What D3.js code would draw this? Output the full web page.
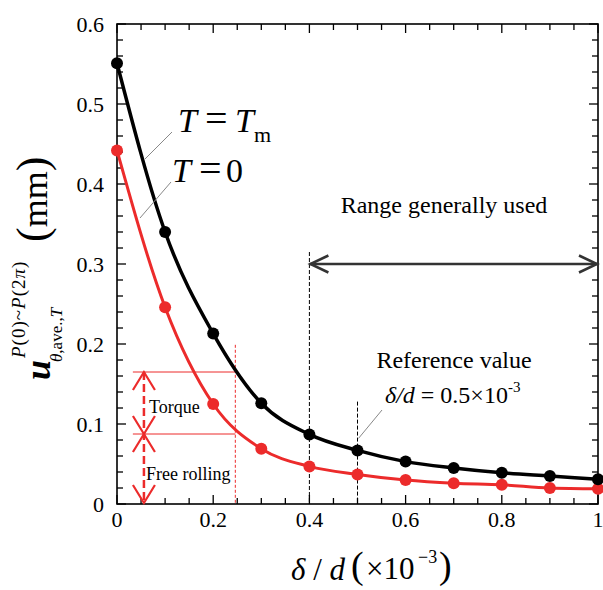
<!DOCTYPE html>
<html><head><meta charset="utf-8">
<script src="https://cdn.jsdelivr.net/npm/d3@7"></script>
<style>body{margin:0;background:#fff}svg{display:block}text{font-family:"Liberation Serif","Times New Roman",serif}</style>
</head><body><svg id="c" width="603" height="590"></svg>
<script>
const xs = [0,0.1,0.2,0.3,0.4,0.5,0.6,0.7,0.8,0.9,1.0];
const tMax = [0.551,0.340,0.213,0.126,0.087,0.067,0.053,0.045,0.039,0.035,0.031];
const tZero = [0.442,0.246,0.125,0.069,0.047,0.037,0.030,0.026,0.024,0.020,0.019];
const xTickLabels = [0,0.2,0.4,0.6,0.8,1];
const yTickLabels = [0,0.1,0.2,0.3,0.4,0.5,0.6];
const RED = "#ec2b2b";

const svg = d3.select("#c");
const L=117,R=598,T=24,B=504;
const x = d3.scaleLinear().domain([0,1]).range([L,R]);
const y = d3.scaleLinear().domain([0,0.6]).range([B,T]);

// ticks
const xMinor = d3.range(0,1.0001,0.05);
const yMinor = d3.range(0,0.6001,0.02);
const isMajX = v => xTickLabels.some(t=>Math.abs(t-v)<1e-6);
const isMajY = v => yTickLabels.some(t=>Math.abs(t-v)<1e-6);
const tk = svg.append("g").attr("stroke","#000").attr("stroke-width",1.3);
xMinor.forEach(v=>{const len=isMajX(v)?9:6;
  tk.append("line").attr("x1",x(v)).attr("x2",x(v)).attr("y1",B).attr("y2",B-len);
  tk.append("line").attr("x1",x(v)).attr("x2",x(v)).attr("y1",T).attr("y2",T+len);});
yMinor.forEach(v=>{const len=isMajY(v)?9:6;
  tk.append("line").attr("y1",y(v)).attr("y2",y(v)).attr("x1",L).attr("x2",L+len);
  tk.append("line").attr("y1",y(v)).attr("y2",y(v)).attr("x1",R).attr("x2",R-len);});
svg.append("rect").attr("x",L).attr("y",T).attr("width",R-L).attr("height",B-T)
  .attr("fill","none").attr("stroke","#000").attr("stroke-width",1.6);

// tick labels
svg.append("g").selectAll("text").data(xTickLabels).join("text")
  .attr("x",d=>x(d)).attr("y",527).attr("text-anchor","middle").attr("font-size",22).text(d=>d);
svg.append("g").selectAll("text").data(yTickLabels).join("text")
  .attr("x",104).attr("y",d=>y(d)+7.5).attr("text-anchor","end").attr("font-size",22).text(d=>d);

// reference dashed lines
svg.append("line").attr("x1",x(0.4)).attr("x2",x(0.4)).attr("y1",y(0.315)).attr("y2",B)
  .attr("stroke","#000").attr("stroke-width",1).attr("stroke-dasharray","4,2");
svg.append("line").attr("x1",x(0.5)).attr("x2",x(0.5)).attr("y1",y(0.128)).attr("y2",B)
  .attr("stroke","#000").attr("stroke-width",1).attr("stroke-dasharray","4,2");
svg.append("line").attr("x1",x(0.246)).attr("x2",x(0.246)).attr("y1",y(0.199)).attr("y2",B)
  .attr("stroke",RED).attr("stroke-width",1).attr("stroke-dasharray","3,2");
[0.165,0.0875].forEach(v=>svg.append("line").attr("x1",x(0.033)).attr("x2",x(0.246))
  .attr("y1",y(v)).attr("y2",y(v)).attr("stroke",RED).attr("stroke-width",1));

// curves
const line = d3.line().x(d=>x(d[0])).y(d=>y(d[1])).curve(d3.curveMonotoneX);
[[tZero,RED,3],[tMax,"#000",3.5]].forEach(([vals,col,w])=>{
  const pts = xs.map((v,i)=>[v,vals[i]]);
  svg.append("path").attr("d",line(pts)).attr("fill","none").attr("stroke",col).attr("stroke-width",w);
  svg.append("g").selectAll("circle").data(pts).join("circle")
    .attr("cx",d=>x(d[0])).attr("cy",d=>y(d[1])).attr("r",6).attr("fill",col);
});

function chev(g,tipX,tipY,dir,len,half,col,w){
  let p;
  if(dir==='l') p=[[tipX+len,tipY-half],[tipX,tipY],[tipX+len,tipY+half]];
  if(dir==='r') p=[[tipX-len,tipY-half],[tipX,tipY],[tipX-len,tipY+half]];
  if(dir==='u') p=[[tipX-half,tipY+len],[tipX,tipY],[tipX+half,tipY+len]];
  if(dir==='d') p=[[tipX-half,tipY-len],[tipX,tipY],[tipX+half,tipY-len]];
  g.append("path").attr("d",d3.line()(p)).attr("fill","none").attr("stroke",col).attr("stroke-width",w);
}
// range arrow
const ar = svg.append("g");
ar.append("line").attr("x1",x(0.4)).attr("x2",x(1)).attr("y1",y(0.3)).attr("y2",y(0.3))
  .attr("stroke","#333").attr("stroke-width",2.5);
chev(ar,x(0.4)+1,y(0.3),'l',18,8.5,"#333",2.5);
chev(ar,x(1)-1,y(0.3),'r',18,8.5,"#333",2.5);
svg.append("text").attr("x",444).attr("y",213).attr("text-anchor","middle").attr("font-size",24).text("Range generally used");

// red arrows
const ra = svg.append("g");
const ax = x(0.056);
ra.append("line").attr("x1",ax).attr("x2",ax).attr("y1",y(0.165)).attr("y2",B)
  .attr("stroke",RED).attr("stroke-width",2.5).attr("stroke-dasharray","8,4");
chev(ra,ax,y(0.165),'u',18,11,RED,2.2);
chev(ra,ax,y(0.0875),'d',18,11,RED,2.2);
chev(ra,ax,y(0.0875),'u',18,11,RED,2.2);
chev(ra,ax,B-1,'d',18,11,RED,2.2);
svg.append("text").attr("x",149).attr("y",413).attr("font-size",18).text("Torque");
svg.append("text").attr("x",146).attr("y",480).attr("font-size",18).text("Free rolling");

// reference value
svg.append("text").attr("x",454).attr("y",368).attr("text-anchor","middle").attr("font-size",24).text("Reference value");
const rv = svg.append("text").attr("x",385).attr("y",403).attr("font-size",24);
rv.append("tspan").attr("font-style","italic").text("δ/d");
rv.append("tspan").text(" = 0.5×10");
rv.append("tspan").attr("font-size",15).attr("dy",-11).text("-3");
svg.append("line").attr("x1",382).attr("y1",410).attr("x2",x(0.5)+1).attr("y2",y(0.082))
  .attr("stroke","#888").attr("stroke-width",1);

// T labels
svg.append("line").attr("x1",172).attr("y1",132).attr("x2",145).attr("y2",159).attr("stroke","#888").attr("stroke-width",1);
svg.append("line").attr("x1",171).attr("y1",182).attr("x2",140).attr("y2",218).attr("stroke","#888").attr("stroke-width",1);
const tl1 = svg.append("g").attr("font-size",34);
tl1.append("text").attr("x",178).attr("y",132).attr("font-style","italic").text("T");
tl1.append("text").attr("x",205).attr("y",132).attr("font-size",40).text("=");
tl1.append("text").attr("x",235).attr("y",132).attr("font-style","italic").text("T");
tl1.append("text").attr("x",254).attr("y",142).attr("font-size",22).text("m");
const tl2 = svg.append("g").attr("font-size",34);
tl2.append("text").attr("x",172).attr("y",182).attr("font-style","italic").text("T");
tl2.append("text").attr("x",199).attr("y",182).attr("font-size",40).text("=");
tl2.append("text").attr("x",226).attr("y",182).text("0");

// x axis label
const xl = svg.append("g");
const xa = xl.append("text").attr("x",291).attr("y",580).attr("font-size",31);
xa.append("tspan").attr("font-style","italic").text("δ");
xa.append("tspan").text(" / ");
xa.append("tspan").attr("font-style","italic").text("d");
xl.append("text").attr("x",351).attr("y",578).attr("font-size",38).text("(");
xl.append("text").attr("x",366).attr("y",579).attr("font-size",31).text("×10");
xl.append("text").attr("x",418).attr("y",563).attr("font-size",18).text("−3");
xl.append("text").attr("x",439).attr("y",578).attr("font-size",38).text(")");

// y axis label
const yl = svg.append("g").attr("transform","translate(50,380) rotate(-90)");
yl.append("text").attr("x",0).attr("y",0).attr("font-size",36).attr("font-weight","bold").attr("font-style","italic").text("u");
const sub = yl.append("text").attr("x",18).attr("y",12).attr("font-size",17);
sub.append("tspan").attr("font-style","italic").text("θ");
sub.append("tspan").text(",ave.,");
sub.append("tspan").attr("font-style","italic").text("T");
const sup = yl.append("text").attr("x",22).attr("y",-25).attr("font-size",19).attr("letter-spacing",1);
sup.append("tspan").attr("font-style","italic").text("P");
sup.append("tspan").text("(0)~");
sup.append("tspan").attr("font-style","italic").text("P");
sup.append("tspan").text("(2");
sup.append("tspan").attr("font-style","italic").text("π");
sup.append("tspan").text(")");
const mm = yl.append("text").attr("x",138).attr("y",-3);
mm.append("tspan").attr("font-size",44).text("(");
mm.append("tspan").attr("font-size",36).text("mm");
mm.append("tspan").attr("font-size",44).text(")");
</script></body></html>
